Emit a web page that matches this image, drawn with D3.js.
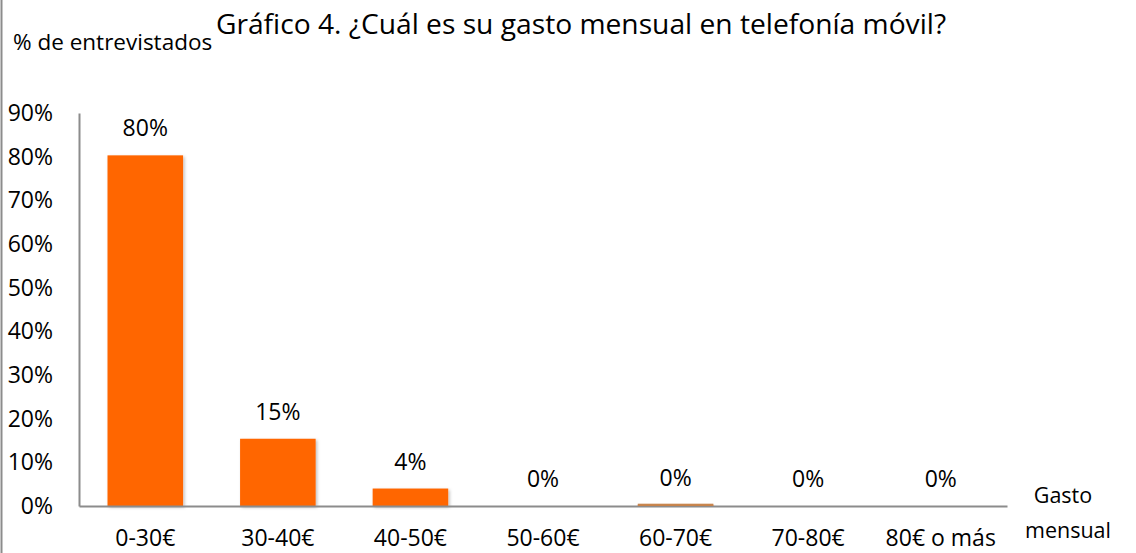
<!DOCTYPE html>
<html>
<head>
<meta charset="utf-8">
<script src="https://cdn.jsdelivr.net/npm/d3@7"></script>
<style>
  body { margin: 0; background: #fff; }
  text { font-family: "Open Sans", sans-serif; fill: #000; }
</style>
</head>
<body>
<div id="chart"></div>
<script>
// data
const categories = ["0-30€", "30-40€", "40-50€", "50-60€", "60-70€", "70-80€", "80€ o más"];
const values = [80.3, 15.4, 4.0, 0, 0.3, 0, 0];
const yTicks = [0, 10, 20, 30, 40, 50, 60, 70, 80, 90];

const width = 1136, height = 553;
const margin = { top: 113, right: 129, bottom: 47, left: 79 };

const svg = d3.select("#chart")
    .append("svg")
    .attr("width", width)
    .attr("height", height);

// soft shadow under the bars
const defs = svg.append("defs");
defs.append("filter")
    .attr("id", "shadow")
    .attr("x", "-10%").attr("y", "-10%")
    .attr("width", "130%").attr("height", "130%")
    .append("feDropShadow")
    .attr("dx", 1.5).attr("dy", 1.5)
    .attr("stdDeviation", 1.5)
    .attr("flood-color", "#000")
    .attr("flood-opacity", 0.25);

// left frame line of the chart area
svg.append("line")
    .attr("x1", 1.5).attr("x2", 1.5)
    .attr("y1", 0).attr("y2", height)
    .attr("stroke", "#8c8c8c")
    .attr("stroke-width", 2);

const x = d3.scaleBand()
    .domain(categories)
    .range([margin.left, width - margin.right])
    .paddingInner(0.43)
    .paddingOuter(0.215);

const y = d3.scaleLinear()
    .domain([0, 90])
    .range([height - margin.bottom, margin.top]);

// bars
svg.selectAll("rect.bar")
    .data(values)
    .enter()
    .append("rect")
    .attr("class", "bar")
    .attr("x", (d, i) => x(categories[i]))
    .attr("y", d => y(d))
    .attr("width", x.bandwidth())
    .attr("height", d => y(0) - y(d))
    .attr("fill", "#ff6600")
    .attr("filter", "url(#shadow)");

// axes (lines only, no tick marks)
const yAxis = svg.append("g")
    .attr("transform", "translate(" + margin.left + ",0)")
    .call(d3.axisLeft(y).tickValues(yTicks).tickSize(0).tickPadding(26).tickFormat(d => d + "%"));
yAxis.select(".domain").attr("stroke", "#8c8c8c").attr("stroke-width", 2);
yAxis.selectAll("text")
    .style("font-family", "'Open Sans', sans-serif")
    .style("font-size", "23px")
    .attr("fill", "#000");

const xAxis = svg.append("g")
    .attr("transform", "translate(0," + y(0) + ")")
    .call(d3.axisBottom(x).tickSize(0));
xAxis.select(".domain").attr("stroke", "#8c8c8c").attr("stroke-width", 2);
xAxis.selectAll("text")
    .attr("y", 40)
    .attr("dy", 0)
    .style("font-family", "'Open Sans', sans-serif")
    .style("font-size", "23px")
    .attr("fill", "#000");

// redraw the tiny bar over the axis line so it shows
svg.selectAll("rect.top")
    .data(values.filter(d => d > 0 && d < 1))
    .enter()
    .append("rect")
    .attr("x", (d) => x(categories[values.indexOf(d)]))
    .attr("y", d => y(d) - 1)
    .attr("width", x.bandwidth())
    .attr("height", 2)
    .attr("fill", "#c8864e");

// value labels
svg.selectAll("text.val")
    .data(values)
    .enter()
    .append("text")
    .attr("class", "val")
    .attr("x", (d, i) => x(categories[i]) + x.bandwidth() / 2)
    .attr("y", d => y(d) - 19)
    .attr("text-anchor", "middle")
    .style("font-size", "23px")
    .text(d => Math.round(d) + "%");

// title
svg.append("text")
    .attr("x", 581)
    .attr("y", 34)
    .attr("text-anchor", "middle")
    .style("font-size", "28.2px")
    .text("Gráfico 4. ¿Cuál es su gasto mensual en telefonía móvil?");

// axis titles
svg.append("text")
    .attr("x", 13)
    .attr("y", 50)
    .style("font-size", "22.5px")
    .text("% de entrevistados");

svg.append("text")
    .attr("x", 1063)
    .attr("y", 503)
    .attr("text-anchor", "middle")
    .style("font-size", "21.5px")
    .text("Gasto");
svg.append("text")
    .attr("x", 1068)
    .attr("y", 538)
    .attr("text-anchor", "middle")
    .style("font-size", "21.5px")
    .text("mensual");
</script>
</body>
</html>
